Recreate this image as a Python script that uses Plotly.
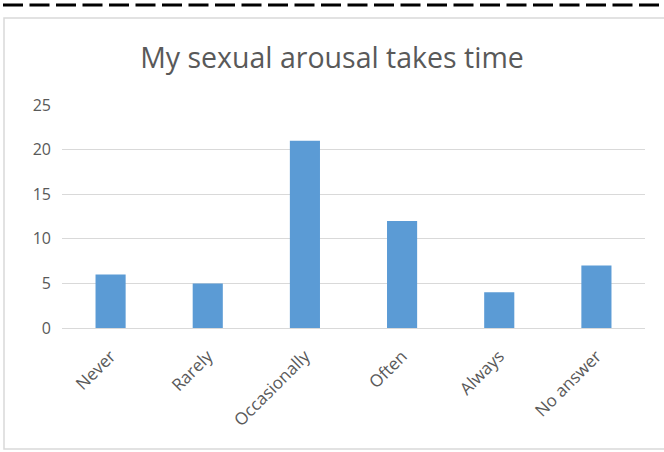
import plotly.graph_objects as go

answers = ["Never", "Rarely", "Occasionally", "Often", "Always", "No answer"]
counts = [6, 5, 21, 12, 4, 7]
y_ticks = [0, 5, 10, 15, 20, 25]

fig = go.Figure(
    go.Bar(
        x=answers,
        y=counts,
        marker=dict(color="#5B9BD5", line=dict(width=0)),
    )
)

fig.update_layout(
    width=664,
    height=452,
    margin=dict(l=62, r=19, t=105, b=124),
    paper_bgcolor="white",
    plot_bgcolor="white",
    font=dict(family="Open Sans, Noto Sans, sans-serif", color="#595959", size=14),
    title=dict(
        text="My sexual arousal takes time",
        x=0.5,
        xanchor="center",
        y=0.872,
        yanchor="middle",
        font=dict(size=28.5, color="#595959"),
    ),
    bargap=0.69,
    showlegend=False,
)

fig.update_xaxes(tickangle=-45, showgrid=False, showline=False, ticks="",
                 ticklabelstandoff=14, tickfont=dict(size=17))
fig.update_yaxes(range=[0, 25], tickvals=y_ticks, showgrid=True, gridcolor="#d9d9d9",
                 gridwidth=1, zeroline=True, zerolinecolor="#d9d9d9", zerolinewidth=1,
                 showline=False, ticks="", ticklabelstandoff=10, tickfont=dict(size=16))

# chart frame (runs off the right edge, as in the original screenshot)
fig.add_shape(type="rect", xref="paper", yref="paper",
              x0=-58 / 583, x1=610 / 583, y0=-121 / 223, y1=310 / 223,
              line=dict(color="#d9d9d9", width=1.5), fillcolor="rgba(0,0,0,0)", layer="below")

# dashed cut line across the top
fig.add_shape(type="line", xref="paper", yref="paper",
              x0=-59 / 583, x1=605 / 583, y0=323 / 223, y1=323 / 223,
              line=dict(color="black", width=3, dash="20px,6.5px"))

fig.write_html("out.html", config={"displayModeBar": False},
               post_script="document.body.style.margin = '0';")
